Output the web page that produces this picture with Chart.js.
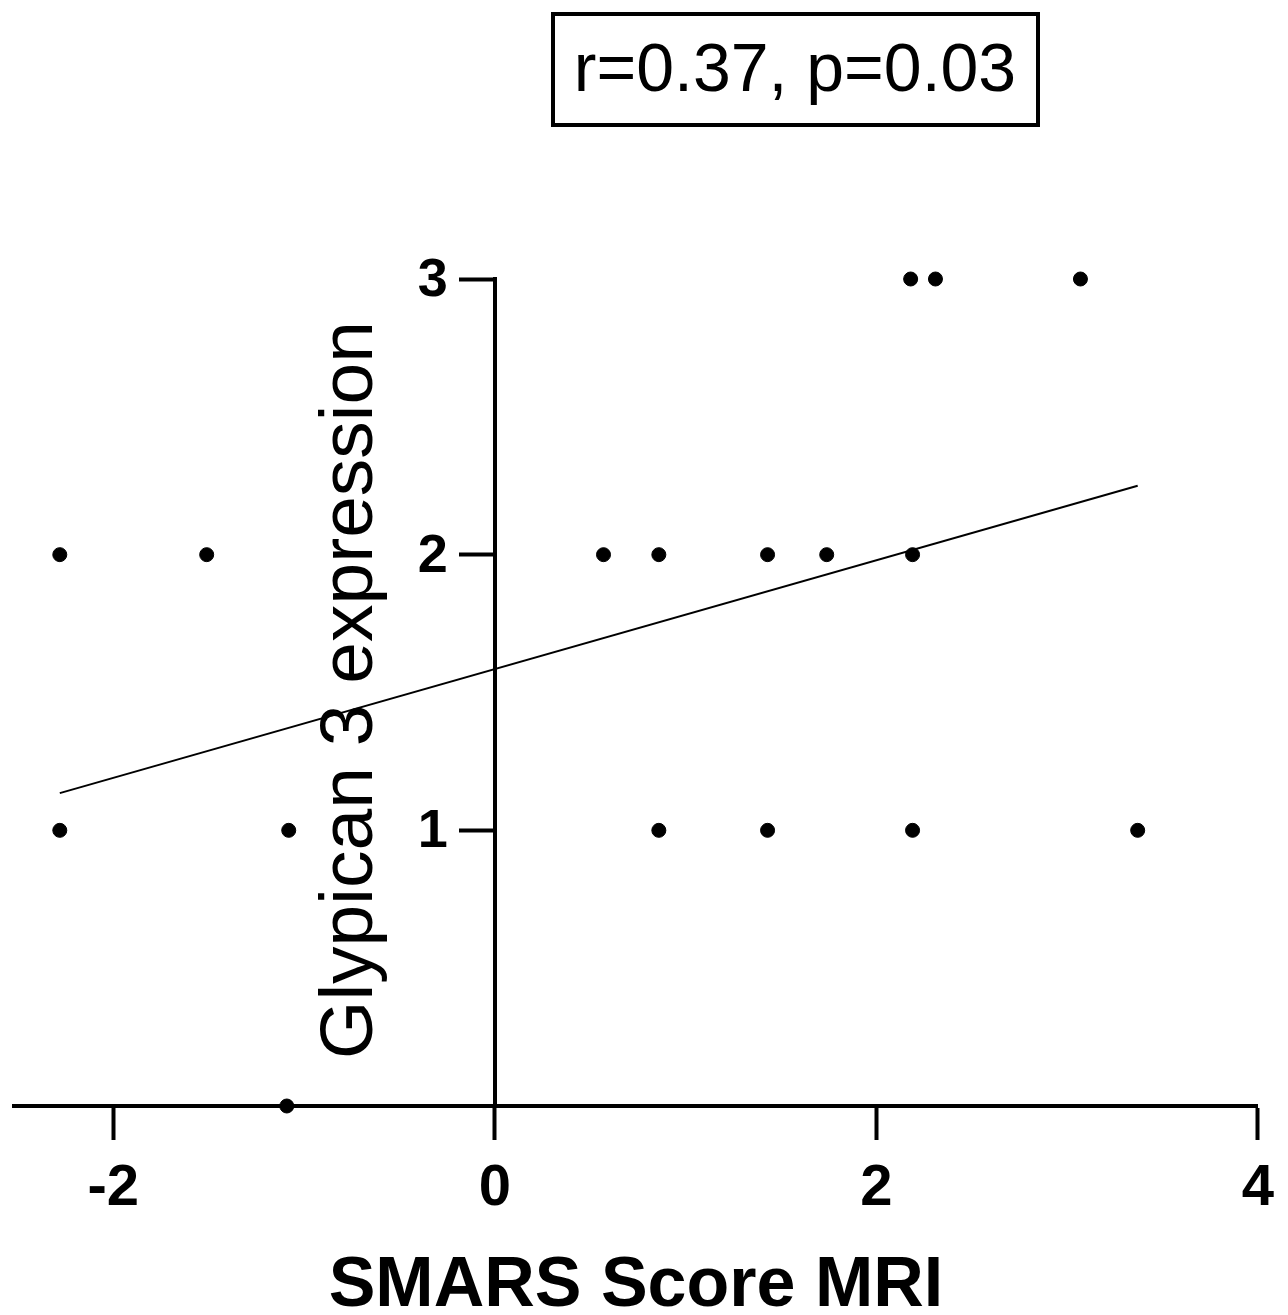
<!DOCTYPE html>
<html>
<head>
<meta charset="utf-8">
<script src="https://cdn.jsdelivr.net/npm/chart.js@4/dist/chart.umd.min.js"></script>
<style>
  html, body { margin: 0; padding: 0; background: #fff; }
  #wrap { width: 1288px; height: 1315px; position: relative; }
</style>
</head>
<body>
<div id="wrap"><canvas id="c"></canvas></div>
<script>
// ---- data ----
const smarsScore = [-2.28, -1.51, 0.57, 0.86, 1.43, 1.74, 2.19, 2.18, 2.31, 3.07, -2.28, -1.08, 0.86, 1.43, 2.19, 3.37, -1.09];
const glypican3  = [2, 2, 2, 2, 2, 2, 2, 3, 3, 3, 1, 1, 1, 1, 1, 1, 0];
const fitX = [-2.28, 3.37];
const fitY = [1.135, 2.25];
const xTicks = [-2, 0, 2, 4];
const yTicks = [1, 2, 3];
const statsLabel = 'r=0.37, p=0.03';
const xTitle = 'SMARS Score MRI';
const yTitle = 'Glypican 3 expression';

const FONT = '"Liberation Sans", Arial, Helvetica, sans-serif';

const points = smarsScore.map((x, i) => ({ x: x, y: glypican3[i] }));
const fitLine = fitX.map((x, i) => ({ x: x, y: fitY[i] }));

const overlay = {
  id: 'overlay',
  afterDraw(chart) {
    const ctx = chart.ctx;
    const xs = chart.scales.x, ys = chart.scales.y;

    // y tick labels, placed left of the tick marks of the centred y axis
    ctx.save();
    ctx.fillStyle = '#000';
    ctx.font = 'bold 54px ' + FONT;
    ctx.textAlign = 'right';
    ctx.textBaseline = 'middle';
    const axisX = xs.getPixelForValue(0);
    yTicks.forEach(v => {
      ctx.fillText(String(v), axisX - 47, ys.getPixelForValue(v) + 2);
    });
    ctx.restore();

    // y-axis title (rotated), sitting inside the plot like the reference
    ctx.save();
    ctx.translate(351, 690);
    ctx.rotate(-Math.PI / 2);
    ctx.fillStyle = '#000';
    ctx.font = '75px ' + FONT;
    ctx.textAlign = 'center';
    ctx.textBaseline = 'middle';
    ctx.fillText(yTitle, 0, 0);
    ctx.restore();

    // stats box at the top
    ctx.save();
    ctx.font = '68px ' + FONT;
    ctx.fillStyle = '#000';
    ctx.textAlign = 'center';
    ctx.textBaseline = 'middle';
    ctx.lineWidth = 4;
    ctx.strokeStyle = '#000';
    ctx.strokeRect(553, 14, 485, 111);
    ctx.fillText(statsLabel, 795, 72);
    ctx.restore();
  }
};

new Chart(document.getElementById('c'), {
  type: 'scatter',
  data: {
    datasets: [
      {
        label: 'data',
        data: points,
        backgroundColor: '#000',
        borderColor: '#000',
        pointRadius: 7,
        pointHoverRadius: 7,
        clip: false
      },
      {
        label: 'fit',
        data: fitLine,
        showLine: true,
        borderColor: '#000',
        borderWidth: 2,
        pointRadius: 0,
        fill: false,
        clip: false
      }
    ]
  },
  options: {
    responsive: true,
    maintainAspectRatio: false,
    animation: false,
    layout: { padding: { left: 14, right: 30, top: 279, bottom: 0 } },
    plugins: {
      legend: { display: false },
      tooltip: { enabled: false }
    },
    scales: {
      x: {
        type: 'linear',
        min: -2.52,
        max: 4,
        afterBuildTicks: (s) => { s.ticks = xTicks.map(v => ({ value: v })); },
        afterFit: (s) => { s.height = 209; },
        border: { display: true, color: '#000', width: 4 },
        grid: { drawOnChartArea: false, drawTicks: true, tickLength: 34, tickWidth: 4, tickColor: '#000', color: '#000' },
        ticks: { color: '#000', font: { family: FONT, size: 58, weight: 'bold' }, padding: 14, maxRotation: 0 },
        title: { display: true, text: xTitle, color: '#000', font: { family: FONT, size: 70, weight: 'bold', lineHeight: 1 }, padding: { top: 0, bottom: -7 } }
      },
      y: {
        type: 'linear',
        min: 0,
        max: 3,
        position: { x: 0 },
        afterBuildTicks: (s) => { s.ticks = yTicks.map(v => ({ value: v })); },
        border: { display: true, color: '#000', width: 4 },
        grid: { drawOnChartArea: false, drawTicks: true, tickLength: 34, tickWidth: 4, tickColor: '#000', color: '#000' },
        ticks: { display: false }
      }
    }
  },
  plugins: [overlay]
});
</script>
</body>
</html>
